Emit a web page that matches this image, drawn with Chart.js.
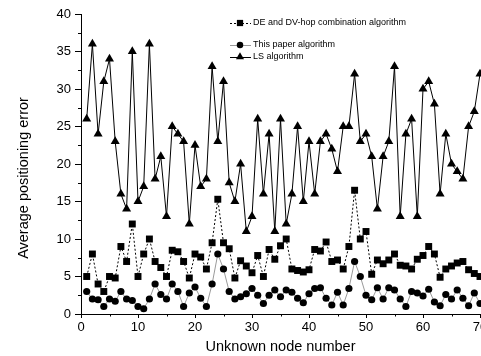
<!DOCTYPE html>
<html><head><meta charset="utf-8">
<script src="https://cdn.jsdelivr.net/npm/chart.js@4/dist/chart.umd.min.js"></script>
<style>
html,body{margin:0;padding:0;background:#fff;overflow:hidden;width:481px;height:356px}
#wrap{position:absolute;left:0;top:0;width:500px;height:356px}
</style>
</head><body><div id="wrap"><canvas id="c" width="500" height="356"></canvas></div>
<script>
const nodeNumbers = [1,2,3,4,5,6,7,8,9,10,11,12,13,14,15,16,17,18,19,20,21,22,23,24,25,26,27,28,29,30,31,32,33,34,35,36,37,38,39,40,41,42,43,44,45,46,47,48,49,50,51,52,53,54,55,56,57,58,59,60,61,62,63,64,65,66,67,68,69,70];
const seriesNames = ['DE and DV-hop combination algorithm','This paper algorithm','LS algorithm'];
const deValues = [5,8,4,3,5,4.8,9,7,12,5, 8,10,7,6.2,5,8.5,8.3,7,4.8,8, 7.6,6,9.5,15.3,9.5,8.7,4.8,7.1,6.4,5.5, 7.8,5,8.6,7.3,9.1,10,6,5.8,5.6,5.9, 8.6,8.4,9.6,7,7.2,6,9,16.5,10,11, 5.3,7.2,6.7,7.2,8,6.5,6.4,6,7.3,7.8, 9,8,4.9,6,6.4,6.8,7,5.9,5.4,5];
const paperValues = [3,2,1.9,1,2,1.7,3,2,1.8,1, 0.7,2,4,2.6,2,4,3,1,2.8,3.6, 2.1,1,4,8,6,3,2,2.3,2.7,3.4, 2.5,1.4,2.5,3.2,2.3,3.2,2.9,2.1,1.5,2.7, 3.4,3.5,2.1,1.2,2.9,1.2,3.4,7,5,2.5, 1.9,3.5,2,3.5,3.2,2,1,3,2.8,2.4, 3.3,1.6,1.1,2.6,2,3.2,2.1,1.1,2.8,1.4];
const lsValues = [26,36,24,31,34,23,16,14,35,15, 17,36,18,21,13,25,24,23,12,22.5, 17,18,33,23,31,17.5,15,20,11,13, 26,16,24,11,26,12,16,25,15,23, 16,23,24,22,19,25,25,32,23,24, 21,14,21,23,33,13,24,26,13,30, 31,28,16,24,20,19,18,25,27,32];
const xTicks = [0,10,20,30,40,50,60,70];
const yTicks = [0,5,10,15,20,25,30,35,40];
const xMinorTicks = [5,15,25,35,45,55,65];
const yMinorTicks = [2.5,7.5,12.5,17.5,22.5,27.5,32.5,37.5];
const yTitle = 'Average positioning error';
const xTitle = 'Unknown node number';

const FONT = 'Liberation Sans, Arial, sans-serif';
const pts = vals => nodeNumbers.map((n,i)=>({x:n,y:vals[i]}));

const styles = [
  {borderColor:'#000', borderDash:[2,2], pointStyle:'rect', pointRadius:4.9},
  {borderColor:'#9a9a9a', borderDash:[], pointStyle:'circle', pointRadius:3.6},
  {borderColor:'#000', borderDash:[], pointStyle:'triangle', pointRadius:5.2}
];
const allValues = [deValues, paperValues, lsValues];
const datasets = allValues.map((v,i)=>({
  label: seriesNames[i],
  data: pts(v),
  borderColor: styles[i].borderColor,
  borderWidth: 1,
  borderDash: styles[i].borderDash,
  pointStyle: styles[i].pointStyle,
  pointRadius: styles[i].pointRadius,
  pointBackgroundColor: '#000',
  pointBorderColor: '#000',
  pointBorderWidth: 0,
  tension: 0,
  fill: false,
  clip: false
}));

const minorPlugin = {
  id: 'minorTicks',
  afterDraw(chart){
    const {ctx, chartArea:a, scales:{x,y}} = chart;
    ctx.save();
    ctx.strokeStyle = '#000'; ctx.lineWidth = 1; ctx.setLineDash([]);
    ctx.beginPath();
    yMinorTicks.forEach(v=>{ const py = Math.round(y.getPixelForValue(v))+0.5; ctx.moveTo(a.left-3,py); ctx.lineTo(a.left,py); });
    xMinorTicks.forEach(v=>{ const px = Math.round(x.getPixelForValue(v))+0.5; ctx.moveTo(px,a.bottom); ctx.lineTo(px,a.bottom+2.5); });
    ctx.stroke();
    // y axis title (offset below the plot centre, as in the original figure)
    ctx.translate(23.5, (a.top + a.bottom)/2 + 14);
    ctx.rotate(-Math.PI/2);
    ctx.fillStyle = '#000';
    ctx.font = '14.5px ' + FONT;
    ctx.textAlign = 'center'; ctx.textBaseline = 'middle';
    ctx.fillText(yTitle, 0, 0);
    ctx.restore();
  }
};

function drawMarker(ctx, style, r, cx, cy){
  ctx.beginPath();
  if (style === 'rect') { const s = Math.SQRT1_2*r; ctx.rect(cx-s, cy-s, 2*s, 2*s); }
  else if (style === 'circle') { ctx.arc(cx, cy, r, 0, Math.PI*2); }
  else { const h = r*Math.sqrt(3)/2; ctx.moveTo(cx, cy-r); ctx.lineTo(cx+h, cy+r/2); ctx.lineTo(cx-h, cy+r/2); ctx.closePath(); }
  ctx.fill();
}

const legendPlugin = {
  id: 'customLegend',
  afterDraw(chart){
    const ctx = chart.ctx;
    const rows = [23, 45, 57];
    ctx.save();
    chart.data.datasets.forEach((ds,i)=>{
      const cy = rows[i];
      ctx.strokeStyle = ds.borderColor; ctx.lineWidth = 1; ctx.setLineDash(ds.borderDash);
      ctx.beginPath(); ctx.moveTo(230, cy+0.5); ctx.lineTo(251, cy+0.5); ctx.stroke();
      ctx.setLineDash([]);
      ctx.fillStyle = '#000';
      drawMarker(ctx, ds.pointStyle, ds.pointRadius*0.9, 240, cy);
      ctx.font = '9px ' + FONT; ctx.textBaseline = 'middle'; ctx.textAlign = 'left';
      ctx.fillText(ds.label, 253, cy);
    });
    ctx.restore();
  }
};

new Chart(document.getElementById('c'), {
  type: 'line',
  data: { datasets },
  plugins: [minorPlugin, legendPlugin],
  options: {
    responsive: false,
    animation: false,
    devicePixelRatio: 1,
    layout: { padding: { left: 10, top: 14, right: 20, bottom: 0 } },
    plugins: { legend: { display: false }, tooltip: { enabled: false } },
    scales: {
      x: {
        type: 'linear', min: 0, max: 70,
        afterBuildTicks: s => { s.ticks = xTicks.map(v=>({value:v})); },
        afterFit: s => { s.height = 42; },
        grid: { display: true, drawOnChartArea: false, drawTicks: true, tickLength: 4, color: '#000', tickColor: '#000' },
        border: { display: true, color: '#000', width: 1 },
        ticks: { color: '#000', font: { family: FONT, size: 13 }, padding: 2, maxRotation: 0, autoSkip: false },
        title: { display: true, text: xTitle, color: '#000', font: { family: FONT, size: 14.5 }, padding: { top: 2, bottom: 0 } }
      },
      y: {
        type: 'linear', min: 0, max: 40,
        afterBuildTicks: s => { s.ticks = yTicks.map(v=>({value:v})); },
        afterFit: s => { s.width = 71; },
        grid: { display: true, drawOnChartArea: false, drawTicks: true, tickLength: 6, color: '#000', tickColor: '#000' },
        border: { display: true, color: '#000', width: 1 },
        ticks: { color: '#000', font: { family: FONT, size: 13 }, padding: 4 },
        title: { display: false }
      }
    }
  }
});
</script>
</body></html>
